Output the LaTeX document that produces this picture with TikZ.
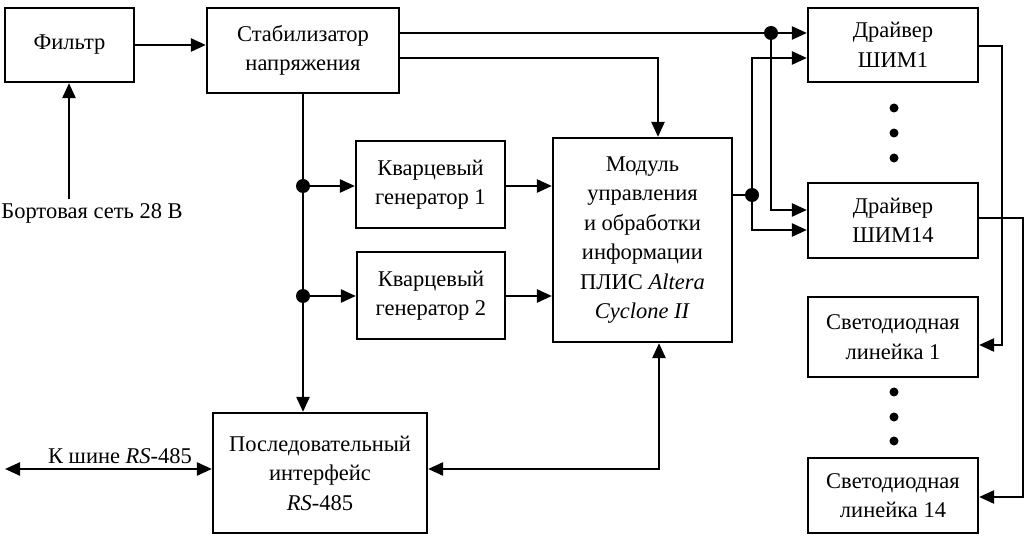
\documentclass[tikz,border=0pt]{standalone}
\usepackage{fontspec}
\setmainfont{Liberation Serif}
\usetikzlibrary{arrows.meta}
\tikzset{
  blk/.style={draw, line width=2.2pt, align=center, inner sep=0pt, font=\fontsize{22.5}{29.5}\selectfont},
  lbl/.style={inner sep=0pt, font=\fontsize{22.5}{29.5}\selectfont},
  wire/.style={line width=2.4pt},
  arr/.style={wire, -{Triangle[length=15pt,width=13pt]}},
  darr/.style={wire, {Triangle[length=15pt,width=13pt]}-{Triangle[length=15pt,width=13pt]}},
  jdot/.style={circle, fill=black, inner sep=0pt, minimum size=14pt},
  vdot/.style={circle, fill=black, inner sep=0pt, minimum size=9pt},
}
\begin{document}
\begin{tikzpicture}[x=1pt,y=-1pt]
\useasboundingbox (0,0) rectangle (1034,537);
% blocks
\node[blk, minimum width=129pt, minimum height=74pt] (filt) at (69.5,45) {Фильтр};
\node[blk, minimum width=192pt, minimum height=85pt] (stab) at (303,50.5) {Стабилизатор\\напряжения};
\node[blk, minimum width=149pt, minimum height=87pt] (kv1) at (430.5,184.5) {Кварцевый\\генератор 1};
\node[blk, minimum width=148pt, minimum height=87pt] (kv2) at (431,295.5) {Кварцевый\\генератор 2};
\node[blk, minimum width=179pt, minimum height=204pt] (mod) at (642.5,240) {Модуль\\управления\\и обработки\\информации\\ПЛИС \textit{Altera}\\\textit{Cyclone II}};
\node[blk, minimum width=214pt, minimum height=120pt] (ser) at (320,473) {Последовательный\\интерфейс\\\textit{RS}-485};
\node[blk, minimum width=170pt, minimum height=74pt] (d1) at (893,45) {Драйвер\\ШИМ1};
\node[blk, minimum width=170pt, minimum height=75pt] (d14) at (893,220.5) {Драйвер\\ШИМ14};
\node[blk, minimum width=170pt, minimum height=80pt] (l1) at (893,337) {Светодиодная\\линейка 1};
\node[blk, minimum width=170pt, minimum height=75pt] (l14) at (893,495.5) {Светодиодная\\линейка 14};
% labels
\node[lbl] (bort) at (92,213) {Бортовая сеть 28 В};
\node[lbl] (bus) at (120,456) {К шине \textit{RS}-485};
% ellipsis dots
\node[vdot] (e1) at (894,108) {};
\node[vdot] (e2) at (894,133) {};
\node[vdot] (e3) at (894,158) {};
\node[vdot] (e4) at (894,392) {};
\node[vdot] (e5) at (894,417) {};
\node[vdot] (e6) at (894,441) {};
% junctions
\node[jdot] (j1) at (303,186) {};
\node[jdot] (j2) at (303,296) {};
\node[jdot] (j3) at (771,33) {};
\node[jdot] (j4) at (752,195) {};
% coordinates
\coordinate (bortTop) at (69,199);
\coordinate (busL) at (5,469);
\coordinate (sm) at (658,58);
\coordinate (mb) at (659,469);
\coordinate (a1) at (752,58);
\coordinate (a2) at (752,230);
\coordinate (b1) at (771,210);
\coordinate (r1) at (1002,46);
\coordinate (r2) at (1002,345);
\coordinate (s1) at (1023,218);
\coordinate (s2) at (1023,497);
% connectors
\draw[arr] (bortTop) -- (bortTop |- filt.south);
\draw[arr] (filt.east) -- (filt.east -| stab.west);
\draw[arr] (stab.east |- j3) -- (j3) -- (j3 -| d1.west);
\draw[arr] (stab.east |- sm) -- (sm) -- (sm |- mod.north);
\draw[wire] (stab.south) -- (j1) -- (j2);
\draw[arr] (j2) -- (j2 |- ser.north);
\draw[arr] (j1) -- (j1 -| kv1.west);
\draw[arr] (j2) -- (j2 -| kv2.west);
\draw[arr] (kv1.east |- j1) -- (j1 -| mod.west);
\draw[arr] (kv2.east |- j2) -- (j2 -| mod.west);
\draw[darr] (ser.east |- mb) -- (mb) -- (mb |- mod.south);
\draw[darr] (busL) -- (busL -| ser.west);
\draw[wire] (mod.east |- j4) -- (j4);
\draw[arr] (j4) -- (a1) -- (a1 -| d1.west);
\draw[arr] (j4) -- (a2) -- (a2 -| d14.west);
\draw[arr] (j3) -- (b1) -- (b1 -| d14.west);
\draw[arr] (r1 -| d1.east) -- (r1) -- (r2) -- (r2 -| l1.east);
\draw[arr] (s1 -| d14.east) -- (s1) -- (s2) -- (s2 -| l14.east);
\end{tikzpicture}
\end{document}
